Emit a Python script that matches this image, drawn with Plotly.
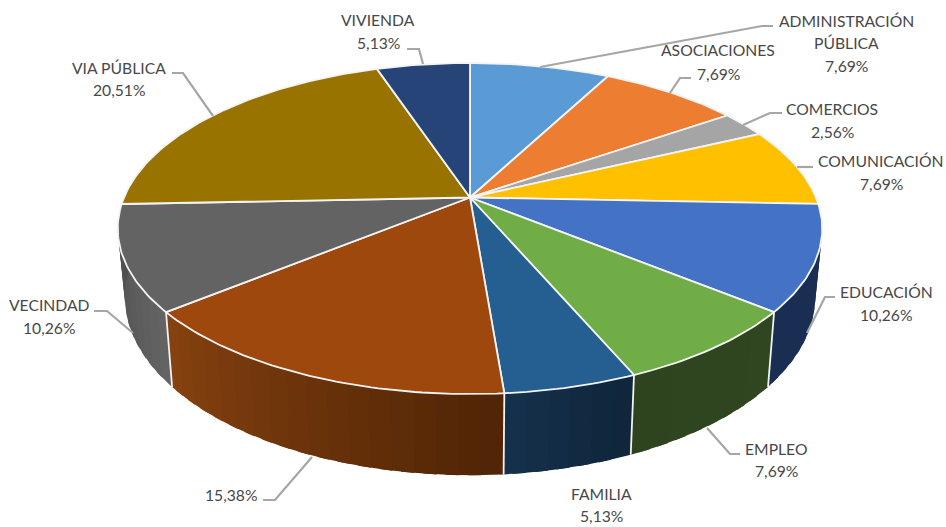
import math
import plotly.graph_objects as go

categories = ["ADMINISTRACIÓN PÚBLICA", "ASOCIACIONES", "COMERCIOS", "COMUNICACIÓN", "EDUCACIÓN",
              "EMPLEO", "FAMILIA", "", "VECINDAD", "VIA PÚBLICA", "VIVIENDA"]
values = [7.69, 7.69, 2.56, 7.69, 10.26, 7.69, 5.13, 15.38, 10.26, 20.51, 5.13]

top_colors = ["#5B9BD5", "#ED7D31", "#A5A5A5", "#FFC000", "#4472C4", "#70AD47",
              "#255E91", "#9E480E", "#636363", "#997300", "#264478"]
# wall colour at the start and the end of each slice (clockwise)
wall_from = ["#2E5A80", "#8E4B1D", "#636363", "#997300", "#1B2F55", "#2F4620",
             "#0F2539", "#4F2405", "#646464", "#5C4500", "#16294A"]
wall_to = ["#2E5A80", "#8E4B1D", "#636363", "#997300", "#1A2D52", "#2D441E",
           "#15314D", "#874210", "#4D4D4D", "#5C4500", "#16294A"]

# label lines: (x, y) centre of each text line, in picture pixels
label_lines = [
    [("ADMINISTRACIÓN", 846, 21), ("PÚBLICA", 846, 43), (None, 846, 66)],
    [("ASOCIACIONES", 718, 50), (None, 718, 74)],
    [("COMERCIOS", 832, 109), (None, 832, 132)],
    [("COMUNICACIÓN", 881, 161), (None, 881, 184)],
    [("EDUCACIÓN", 886, 292), (None, 886, 315)],
    [("EMPLEO", 776, 449), (None, 776, 471)],
    [("FAMILIA", 601, 494), (None, 601, 516)],
    [(None, 231, 495)],
    [("VECINDAD", 49, 305), (None, 49, 328)],
    [("VIA PÚBLICA", 119, 68), (None, 119, 90)],
    [("VIVIENDA", 378, 20), (None, 378, 43)],
]
leaders = [
    [(540, 67), (762, 26), (773, 26)],
    [(670, 93), (680, 78), (691, 78)],
    [(743, 125), (770, 113), (782, 113)],
    [(797, 167), (813, 167)],
    [(807, 333), (825, 297), (835, 297)],
    [(707, 428), (730, 454), (740, 454)],
    [(312, 457), (275, 500), (263, 500)],
    [(133, 333), (107, 311), (94, 311)],
    [(213, 116), (183, 73), (172, 73)],
    [(423, 64), (419, 49), (407, 49)],
]
leaders.insert(6, [])  # FAMILIA has no leader line

# projection of the tilted disc
CX, CY, RX, RY, K, H, BOTTOM_SCALE = 470, 197.5, 346, 159.7, 0.1874, 66, 0.98


def top_point(theta):
    s = 1 / (1 + K * math.cos(theta))
    return CX + RX * math.sin(theta) * s, CY - RY * math.cos(theta) * s


def bottom_point(theta):
    x, y = top_point(theta)
    s = 1 / (1 + K * math.cos(theta))
    return CX + (x - CX) * BOTTOM_SCALE, y + H * s


def mix(c1, c2, t):
    a = [int(c1[i:i + 2], 16) for i in (1, 3, 5)]
    b = [int(c2[i:i + 2], 16) for i in (1, 3, 5)]
    return "rgb({},{},{})".format(*[round(p + (q - p) * t) for p, q in zip(a, b)])


total = sum(values)
edges = [0.0]
for v in values:
    edges.append(edges[-1] + v / total * 2 * math.pi)

fig = go.Figure()
STEP = math.radians(3)

# walls: each strip runs on under the next one, so that no seam shows
for i in range(len(values)):
    a0, a1 = edges[i], edges[i + 1]
    lo, hi = max(a0, math.radians(60)), min(a1, math.radians(300))
    if lo >= hi:
        continue
    n = max(1, round((hi - lo) / STEP))
    for j in range(n):
        t0 = lo + (hi - lo) * j / n
        t1 = lo + (hi - lo) * (j + 1.6) / n if j < n - 1 else hi
        m = max(2, round((t1 - t0) / math.radians(0.5)))
        arc = [t0 + (t1 - t0) * q / m for q in range(m + 1)]
        p = [top_point(t) for t in arc] + [bottom_point(t) for t in reversed(arc)]
        col = mix(wall_from[i], wall_to[i], (j + 0.5) / n)
        fig.add_trace(go.Scatter(x=[q[0] for q in p], y=[q[1] for q in p], mode="lines",
                                 fill="toself", fillcolor=col, line=dict(width=0),
                                 hoverinfo="skip", showlegend=False))

# white separators between the walls
for t in edges:
    if math.radians(100) < t < math.radians(260):
        p0, p1 = top_point(t), bottom_point(t)
        fig.add_trace(go.Scatter(x=[p0[0], p1[0]], y=[p0[1], p1[1]], mode="lines",
                                 line=dict(color="#F2F2F2", width=1.8),
                                 hoverinfo="skip", showlegend=False))

# top face
for i, v in enumerate(values):
    a0, a1 = edges[i], edges[i + 1]
    n = max(2, round((a1 - a0) / math.radians(1)))
    pts = [(CX, CY)] + [top_point(a0 + (a1 - a0) * j / n) for j in range(n + 1)] + [(CX, CY)]
    fig.add_trace(go.Scatter(x=[q[0] for q in pts], y=[q[1] for q in pts], mode="lines",
                             fill="toself", fillcolor=top_colors[i],
                             line=dict(color="#F4F4F4", width=1.8),
                             name=categories[i], text=f"{categories[i]} {v:.2f}%".replace(".", ","),
                             hoverinfo="text", showlegend=False))

# leader lines
for pts in leaders:
    if pts:
        fig.add_trace(go.Scatter(x=[q[0] for q in pts], y=[q[1] for q in pts], mode="lines",
                                 line=dict(color="#A6A6A6", width=2.2),
                                 hoverinfo="skip", showlegend=False))

# labels
for i, lines in enumerate(label_lines):
    for txt, x, y in lines:
        if txt is None:
            txt = f"{values[i]:.2f}%".replace(".", ",")
        fig.add_annotation(x=x, y=y, text=txt, showarrow=False, xanchor="center", yanchor="middle",
                           font=dict(family="Lato", size=15.7, color="#484848"))

fig.update_layout(
    width=946, height=527, margin=dict(l=0, r=0, t=0, b=0),
    paper_bgcolor="white", plot_bgcolor="white", showlegend=False,
    xaxis=dict(range=[0, 946], visible=False, fixedrange=True),
    yaxis=dict(range=[527, 0], visible=False, fixedrange=True),
)
fig.write_html("out.html", config={"displayModeBar": False},
               post_script="document.body.style.margin='0';document.documentElement.style.overflow='hidden';")
